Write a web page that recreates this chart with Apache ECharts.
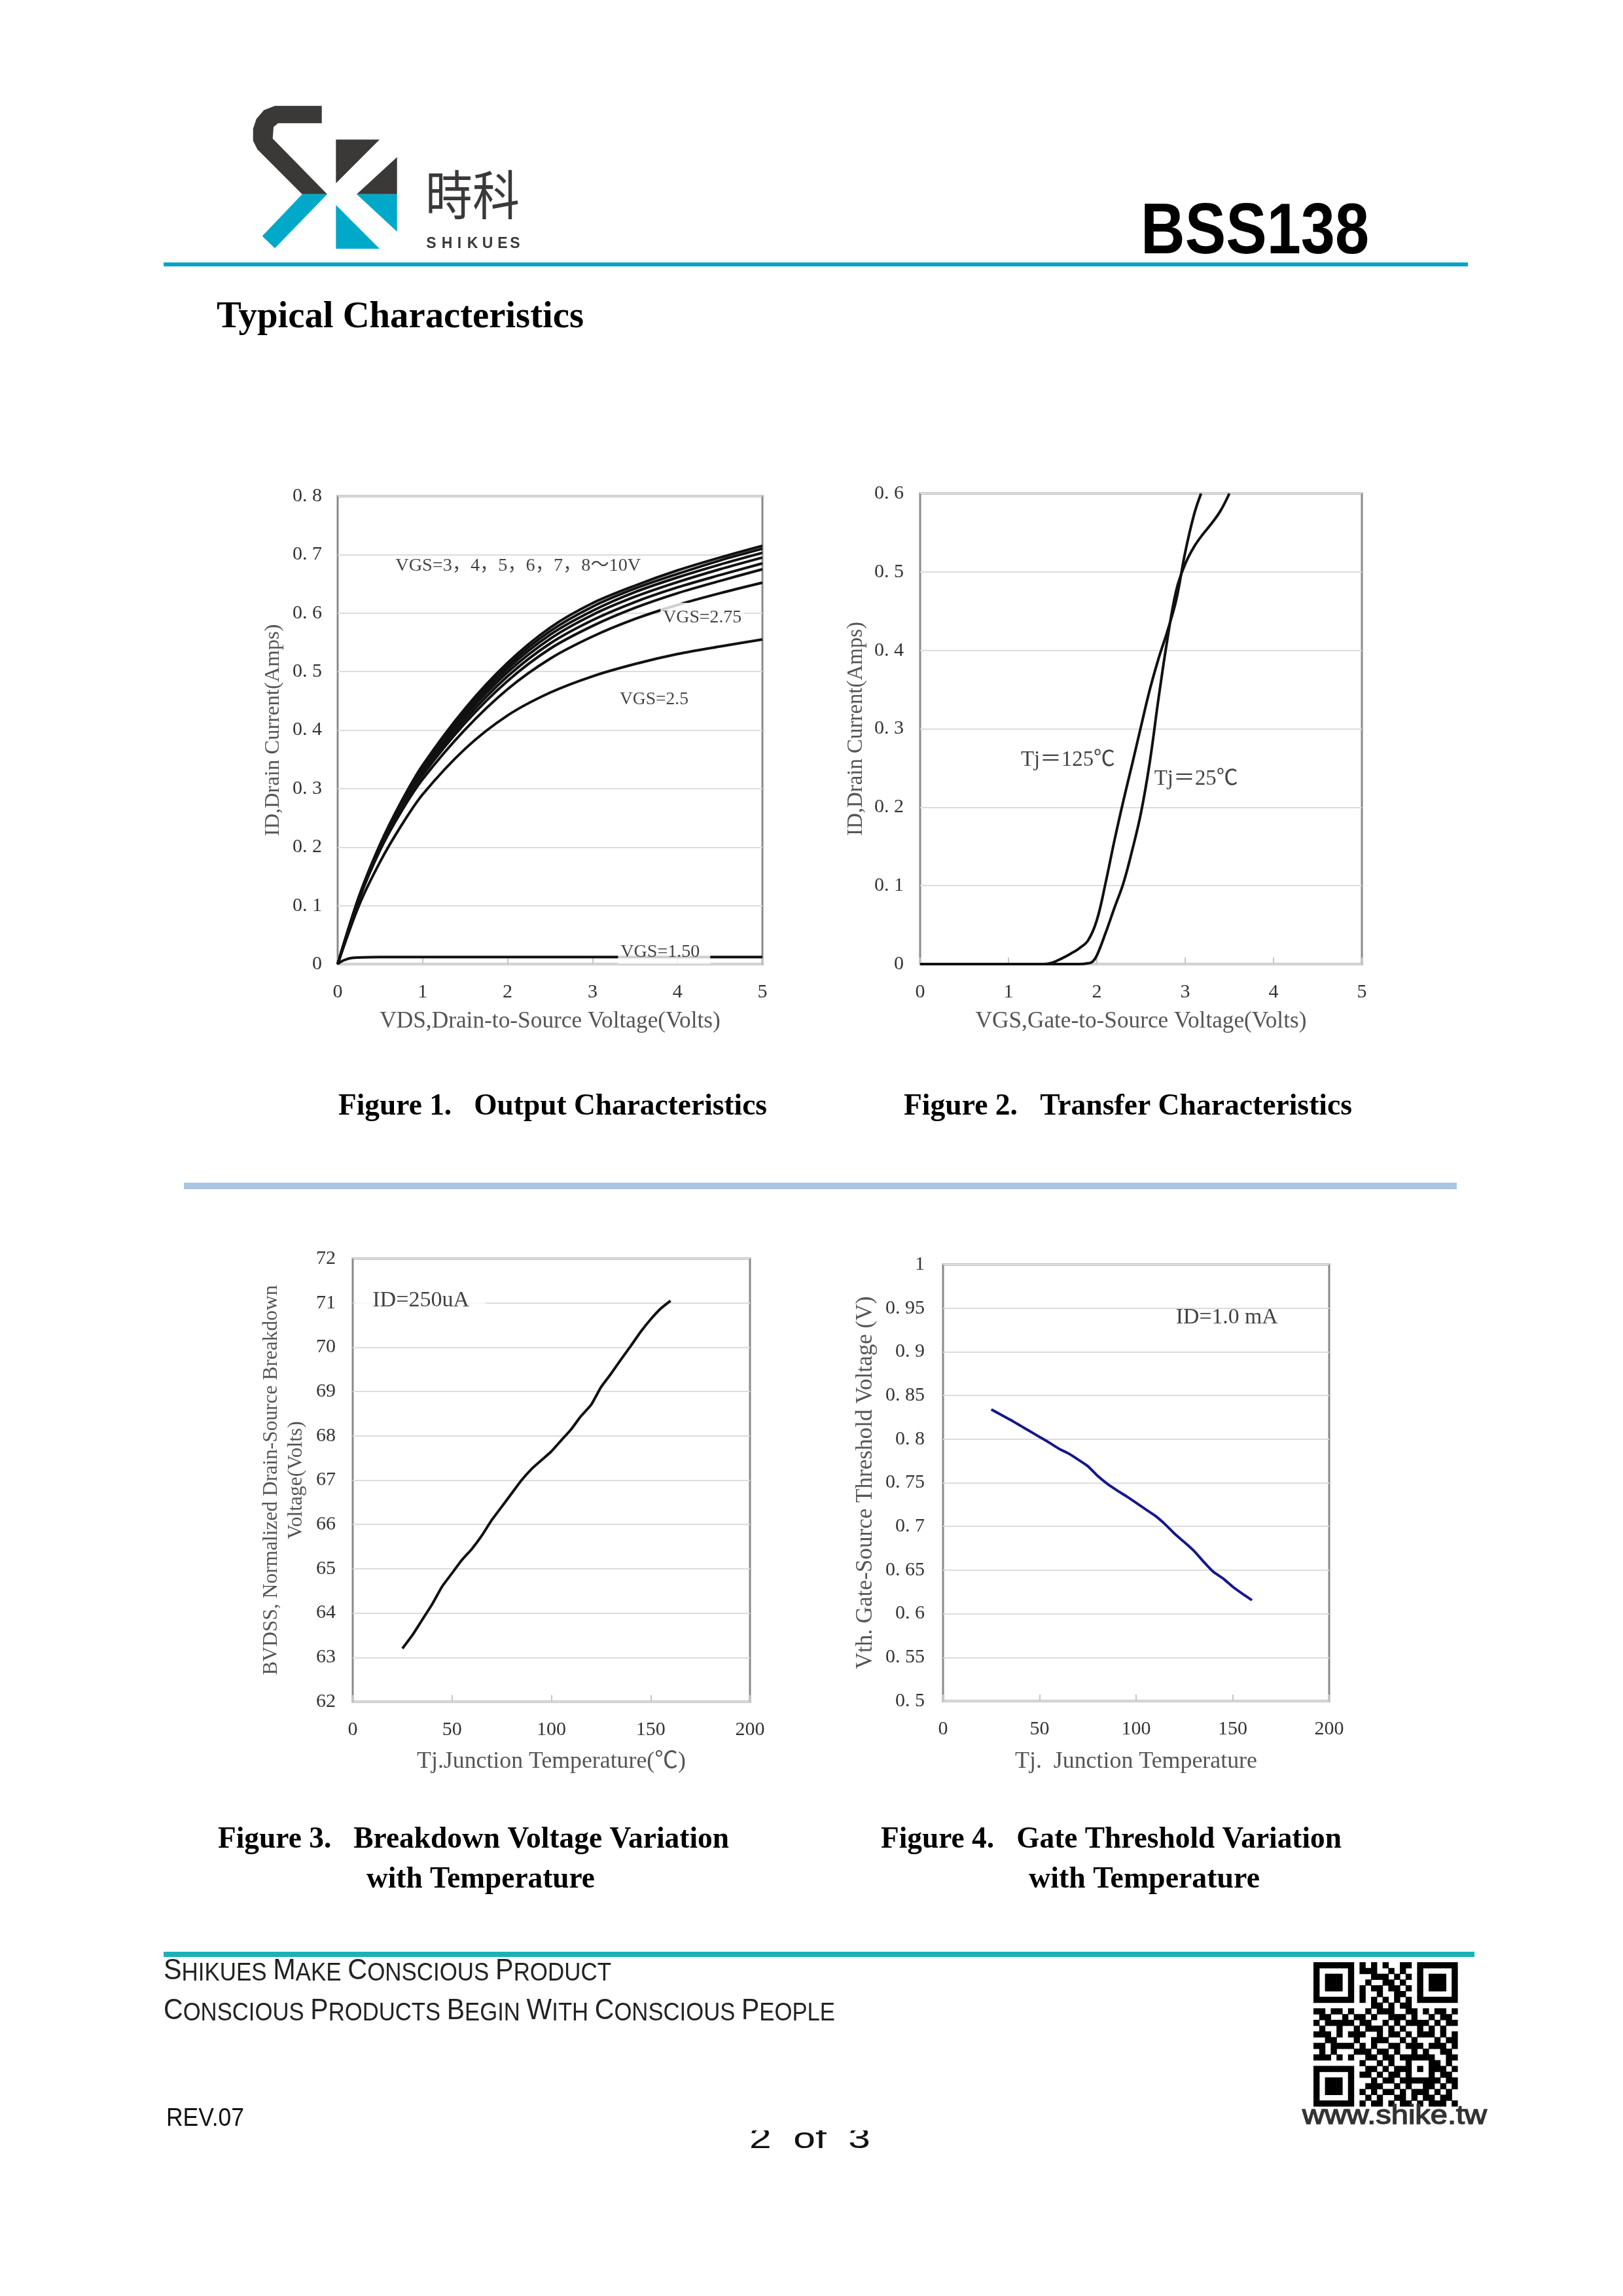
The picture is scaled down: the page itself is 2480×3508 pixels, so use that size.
<!DOCTYPE html>
<html><head><meta charset="utf-8">
<script src="https://cdn.jsdelivr.net/npm/echarts@6/dist/echarts.min.js"></script>
<style>html,body{margin:0;padding:0;background:#fff}#c{width:2480px;height:3508px}</style>
</head><body><div id="c"></div>
<script>
// ---------- Figure 1 data: Output characteristics ----------
const fig1VDS = [0,0.25,0.5,0.75,1,1.5,2,2.5,3,3.5,4,4.5,5];
const idVgs10 = [0,0.115,0.205,0.278,0.340,0.437,0.515,0.575,0.617,0.647,0.673,0.695,0.715];
const idVgs7  = [0,0.115,0.204,0.276,0.337,0.433,0.510,0.569,0.611,0.642,0.667,0.690,0.710];
const idVgs6  = [0,0.114,0.203,0.274,0.334,0.429,0.505,0.563,0.604,0.636,0.661,0.683,0.703];
const idVgs5  = [0,0.113,0.202,0.272,0.331,0.424,0.499,0.556,0.597,0.628,0.653,0.675,0.695];
const idVgs4  = [0,0.112,0.200,0.269,0.327,0.418,0.492,0.548,0.588,0.619,0.644,0.665,0.685];
const idVgs3  = [0,0.111,0.198,0.266,0.323,0.412,0.484,0.539,0.578,0.609,0.634,0.655,0.675];
const idVgs275= [0,0.110,0.195,0.261,0.316,0.401,0.470,0.522,0.560,0.590,0.614,0.634,0.652];
const idVgs25 = [0,0.100,0.175,0.237,0.290,0.368,0.425,0.464,0.492,0.513,0.530,0.543,0.555];
const vgs15VDS = [0,0.05,0.1,0.15,0.2,0.3,0.5,1,2,3,4,5];
const idVgs15  = [0,0.005,0.008,0.010,0.011,0.0115,0.012,0.012,0.012,0.012,0.012,0.012];

// ---------- Figure 2 data: Transfer characteristics ----------
const tj125VGS = [0,1.4,1.5,1.6,1.7,1.8,1.9,2.0,2.1,2.2,2.3,2.4,2.5,2.6,2.7,2.8,2.9,3.0,3.1,3.18];
const tj125ID  = [0,0,0.002,0.007,0.013,0.020,0.030,0.056,0.104,0.158,0.208,0.255,0.303,0.350,0.390,0.425,0.465,0.525,0.573,0.600];
const tj25VGS  = [0,1.8,1.9,1.95,2.0,2.1,2.2,2.3,2.4,2.5,2.6,2.7,2.8,2.9,3.0,3.1,3.2,3.3,3.4,3.5];
const tj25ID   = [0,0,0.001,0.003,0.011,0.040,0.072,0.103,0.145,0.193,0.258,0.340,0.415,0.477,0.510,0.532,0.548,0.562,0.578,0.600];

// ---------- Figure 3 / 4 data ----------
const tjC   = [25,30,35,40,45,50,55,60,65,70,75,80,85,90,95,100,105,110,115,120,125,130,135,140,145,150,155,160];
const bvdss = [63.2,63.5,63.85,64.2,64.6,64.9,65.2,65.45,65.75,66.1,66.4,66.7,67.0,67.25,67.45,67.65,67.9,68.15,68.45,68.7,69.1,69.4,69.72,70.03,70.35,70.63,70.87,71.05];
const vth   = [0.834,0.828,0.822,0.8155,0.809,0.8025,0.796,0.789,0.7835,0.7765,0.769,0.758,0.749,0.7415,0.7345,0.727,0.7195,0.712,0.7025,0.6915,0.682,0.672,0.6595,0.648,0.6405,0.631,0.623,0.6155];

// ---------- annotation texts ----------
const fig1Notes = ['VGS=3，4，5，6，7，8～10V','VGS=2.75','VGS=2.5','VGS=1.50'];
const fig2Notes = ['Tj＝125℃','Tj＝25℃'];
const fig3Note = 'ID=250uA';
const fig4Note = 'ID=1.0 mA';

// decorative QR pattern rows (structure overlaid in code)
const qrRows = [
"0110100110101001101011010","1011001011100101011010110","0101110100111010100101101",
"1100101101001101011010011","0111010010110110100101110","1001101110010011011011001",
"1010101010101010101010101","0110110100110101101001010","1101101001011100110101101",
"0110010110100111010010110","1011111011001010111101011","0100100101110101001010100",
"1110101110010110101110101","0011000100111001010001011","1101111010100110111011101",
"0101000111011010010100110","1110101001101101111110011","0011010110010100110101010",
"1010110101101011001011101","0101001011010110110100110","1101110100101101011011011",
"0010101101110010100110101","1011010010101101011101010","0110101101010011010110110",
"1101011010110101101011101"];

const SERIF = '"Liberation Serif", "Noto Sans CJK SC", serif';
const SANS = '"Liberation Sans", "Noto Sans", sans-serif';
const CJK = '"Noto Sans CJK TC", "Noto Sans CJK SC", sans-serif';
const cv = document.createElement('canvas').getContext('2d');
function tw(text, font){ cv.font = font; return cv.measureText(text).width; }
function fitSize(text, family, weight, target){ return 100*target/tw(text, weight+' 100px '+family); }

function txt(text, x, cy, size, family, weight, width, color, align){
  const font = weight+' '+size+'px '+family;
  const w = tw(text, font);
  return {type:'text', x:x, y:cy, scaleX: width ? width/w : 1, z:100, silent:true,
    style:{text:text, font:font, fill:color||'#000', textAlign:align||'left', align:align||'left',
           textVerticalAlign:'middle', verticalAlign:'middle'}};
}
function smallCaps(text, x, cy, big, small, family, width, color){
  let rich = '', w = 0;
  for (const ch of text){
    if (ch === ' '){ rich += '{s| }'; w += tw(' ', small+'px '+family); continue; }
    if (ch === ch.toUpperCase()){ rich += '{b|'+ch+'}'; w += tw(ch, big+'px '+family); }
    else { const u = ch.toUpperCase(); rich += '{s|'+u+'}'; w += tw(u, small+'px '+family); }
  }
  return {type:'text', x:x, y:cy, scaleX: width/w, z:100, silent:true,
    style:{text:rich, fill:color, textAlign:'left', align:'left', textVerticalAlign:'middle', verticalAlign:'middle',
      rich:{ b:{fontSize:big, fontFamily:family, fill:color, color:color, verticalAlign:'bottom'},
             s:{fontSize:small, fontFamily:family, fill:color, color:color, verticalAlign:'bottom'} }}};
}

const zip = (xs, ys) => xs.map((x,i)=>[x, ys[i]]);
function lineSeries(gi, xs, ys, color, smooth){
  return {type:'line', xAxisIndex:gi, yAxisIndex:gi, data:zip(xs,ys), symbol:'none', showSymbol:false,
    smooth: smooth, silent:true, z:3, lineStyle:{color:color, width:4}};
}
function notes(gi, items){
  return {type:'scatter', xAxisIndex:gi, yAxisIndex:gi, symbolSize:0, z:10, silent:true,
    data: items.map(it => ({name:it.text, value:it.at, label:{show:true, position:'right', distance:0, formatter:'{b}',
      fontFamily:SERIF, fontSize:it.size, color:'#111', backgroundColor: it.bg || 'transparent', padding: it.pad || 0}}))};
}
const decFmt = v => { if (Math.abs(v - Math.round(v)) < 1e-9) return String(Math.round(v));
  let s = v.toFixed(2).replace(/0+$/,''); return s.replace('.', '. '); };

const TICK_FONT = 30;
function xAxis(gi, min, max, interval, name, nameGap, target){
  return {type:'value', gridIndex:gi, min:min, max:max, interval:interval,
    axisLine:{show:false}, splitLine:{show:false},
    axisTick:{show:true, inside:true, length:10, lineStyle:{color:'#c6c6c6', width:2}},
    axisLabel:{margin:28, fontFamily:SERIF, fontSize:TICK_FONT, color:'#333'},
    name:name, nameLocation:'middle', nameGap:nameGap,
    nameTextStyle:{fontFamily:SERIF, fontSize:fitSize(name, SERIF, 'normal', target), color:'#555', verticalAlign:'middle'}};
}
function yAxis(gi, min, max, interval, name, nameGap, target, fmt, margin, lh){
  const first = name.split('\n')[0];
  return {type:'value', gridIndex:gi, min:min, max:max, interval:interval,
    axisLine:{show:false}, axisTick:{show:false},
    splitLine:{show:true, lineStyle:{color:'#dcdcdc', width:2}},
    axisLabel:{margin:margin, fontFamily:SERIF, fontSize:TICK_FONT, color:'#333', formatter:fmt},
    name:name, nameLocation:'middle', nameGap:nameGap, nameRotate:90,
    nameTextStyle:{fontFamily:SERIF, fontSize:fitSize(first, SERIF, 'normal', target), color:'#555',
      verticalAlign:'middle', lineHeight: lh || undefined}};
}
const gridBox = {show:true, borderColor:'#8a8a8a', borderWidth:3, backgroundColor:'transparent'};

// ---------- page graphics ----------
const G = [];
const DARK = '#3b3838', CYAN = '#00a9c9';
G.push({type:'polygon', silent:true, shape:{points:[[491.7,161.7],[491.7,188.3],[425,188.3],[418,194],[416.7,211.7],[500,296.7],[461.7,296.7],[393.3,228.3],[386.7,215],[386.7,196.7],[391.7,181.7],[403.3,168.3],[420,161.7]]}, style:{fill:DARK}});
G.push({type:'polygon', silent:true, shape:{points:[[461.7,296.7],[500,296.7],[420,379.3],[400.7,360.7]]}, style:{fill:CYAN}});
G.push({type:'polygon', silent:true, shape:{points:[[513.3,213.3],[580,213.3],[513.3,280]]}, style:{fill:DARK}});
G.push({type:'polygon', silent:true, shape:{points:[[606.7,240],[606.7,296.7],[545,296.7]]}, style:{fill:DARK}});
G.push({type:'polygon', silent:true, shape:{points:[[545,296.7],[606.7,296.7],[606.7,354]]}, style:{fill:CYAN}});
G.push({type:'polygon', silent:true, shape:{points:[[513.3,313.3],[513.3,380],[580,380]]}, style:{fill:CYAN}});
G.push(Object.assign(txt('時科', 650, 297, 72, CJK, 'normal', 144, DARK), {scaleY:1.12}));
const skLetters = ['S','H','I','K','U','E','S'], skX = [659,683,702,722,745,768,787];
skLetters.forEach((c,i)=>G.push(txt(c, skX[i], 372.5, 23, SANS, 'bold', 0, DARK, 'center')));
G.push(txt('BSS138', 1743, 357, 110, SANS, 'bold', 349, '#000'));
G.push({type:'rect', silent:true, shape:{x:250, y:401, width:1993, height:6}, style:{fill:'#02a2c6'}});
G.push(txt('Typical Characteristics', 331, 486, 56, SERIF, 'bold', 561, '#000'));
G.push(txt('Figure 1.   Output Characteristics', 517, 1691, 46, SERIF, 'bold', 655, '#000'));
G.push(txt('Figure 2.   Transfer Characteristics', 1381, 1691, 46, SERIF, 'bold', 685, '#000'));
G.push({type:'rect', silent:true, shape:{x:281, y:1807, width:1945, height:10}, style:{fill:'#a9c6e2'}});
G.push(txt('Figure 3.   Breakdown Voltage Variation', 333, 2811, 46, SERIF, 'bold', 781, '#000'));
G.push(txt('with Temperature', 560, 2872, 46, SERIF, 'bold', 349, '#000'));
G.push(txt('Figure 4.   Gate Threshold Variation', 1346, 2811, 46, SERIF, 'bold', 704, '#000'));
G.push(txt('with Temperature', 1572, 2872, 46, SERIF, 'bold', 353, '#000'));
G.push({type:'rect', silent:true, shape:{x:250, y:2982, width:2003, height:8}, style:{fill:'#1cb2b5'}});
G.push(smallCaps('Shikues Make Conscious Product', 250, 3012, 45, 38, SANS, 684, '#222'));
G.push(smallCaps('Conscious Products Begin With Conscious People', 250, 3073, 45, 38, SANS, 1026, '#222'));
G.push(txt('REV.07', 254, 3238, 38, SANS, 'normal', 119, '#111'));
G.push(txt('2  of  3', 1145, 3270, 44, SANS, 'normal', 185, '#111'));
G.push({type:'rect', silent:true, z:101, shape:{x:1120, y:3225, width:240, height:30}, style:{fill:'#fff'}});
const www = txt('www.shike.tw', 1990, 3234, 40, SANS, 'normal', 282, '#333');
www.style.stroke = '#333'; www.style.lineWidth = 1.4;
G.push(www);
// QR code (decorative)
(function(){
  const x0 = 2007, y0 = 2998, m = 8.8;
  function dark(r,c){
    const fz = [[0,0],[0,18],[18,0]];
    for (const [r0,c0] of fz){
      if (r>=r0 && r<r0+7 && c>=c0 && c<c0+7){ const rr=r-r0, cc=c-c0;
        return rr===0||rr===6||cc===0||cc===6||(rr>=2&&rr<=4&&cc>=2&&cc<=4); }
    }
    if ((r===7&&(c<8||c>=17))||(c===7&&(r<8||r>=17))||(c===17&&r<8)||(r===17&&c<8)) return false;
    if (r>=16&&r<=20&&c>=16&&c<=20){ const rr=r-16, cc=c-16; return rr===0||rr===4||cc===0||cc===4||(rr===2&&cc===2); }
    if (r===6) return c%2===0;
    if (c===6) return r%2===0;
    return qrRows[r][c]==='1';
  }
  for (let r=0;r<25;r++) for (let c=0;c<25;c++) if (dark(r,c))
    G.push({type:'rect', silent:true, shape:{x:x0+c*m, y:y0+r*m, width:m+0.6, height:m+0.6}, style:{fill:'#000'}});
})();

// ---------- chart option ----------
const nSize = (t, w) => fitSize(t, SERIF, 'normal', w);
const option = {
  backgroundColor:'#fff', animation:false,
  grid:[
    Object.assign({left:516, top:758, width:649, height:715}, gridBox),
    Object.assign({left:1406, top:754, width:675, height:719}, gridBox),
    Object.assign({left:539, top:1923, width:607, height:677}, gridBox),
    Object.assign({left:1441, top:1932, width:590, height:667}, gridBox)
  ],
  xAxis:[
    xAxis(0, 0, 5, 1, 'VDS,Drain-to-Source Voltage(Volts)', 88, 521),
    xAxis(1, 0, 5, 1, 'VGS,Gate-to-Source Voltage(Volts)', 88, 506),
    xAxis(2, 0, 200, 50, 'Tj.Junction Temperature(℃)', 92, 411),
    xAxis(3, 0, 200, 50, 'Tj.  Junction Temperature', 93, 370)
  ],
  yAxis:[
    yAxis(0, 0, 0.8, 0.1, 'ID,Drain Current(Amps)', 99, 324, decFmt, 24),
    yAxis(1, 0, 0.6, 0.1, 'ID,Drain Current(Amps)', 98, 327, decFmt, 25),
    yAxis(2, 62, 72, 1, 'BVDSS, Normalized Drain-Source Breakdown\nVoltage(Volts)', 105, 596, v=>String(v), 26, 38),
    yAxis(3, 0.5, 1, 0.05, 'Vth. Gate-Source Threshold Voltage (V)', 118, 570, decFmt, 28)
  ],
  series:[
    lineSeries(0, fig1VDS, idVgs25, '#111', 0.3),
    lineSeries(0, fig1VDS, idVgs275, '#111', 0.3),
    lineSeries(0, fig1VDS, idVgs3, '#111', 0.3),
    lineSeries(0, fig1VDS, idVgs4, '#111', 0.3),
    lineSeries(0, fig1VDS, idVgs5, '#111', 0.3),
    lineSeries(0, fig1VDS, idVgs6, '#111', 0.3),
    lineSeries(0, fig1VDS, idVgs7, '#111', 0.3),
    lineSeries(0, fig1VDS, idVgs10, '#111', 0.3),
    lineSeries(0, vgs15VDS, idVgs15, '#111', 0.25),
    lineSeries(1, tj125VGS, tj125ID, '#111', 0.4),
    lineSeries(1, tj25VGS, tj25ID, '#111', 0.4),
    lineSeries(2, tjC, bvdss, '#111', 0.2),
    lineSeries(3, tjC, vth, '#16168a', 0.2),
    notes(0, [
      {text:fig1Notes[0], at:[0.68, 0.681], size:nSize(fig1Notes[0], 375)},
      {text:fig1Notes[1], at:[3.80, 0.592], size:nSize(fig1Notes[1], 120), bg:'#fff', pad:[16,4,2,4]},
      {text:fig1Notes[2], at:[3.32, 0.452], size:nSize(fig1Notes[2], 105)},
      {text:fig1Notes[3], at:[3.30, 0.021], size:nSize(fig1Notes[3], 121), bg:'#fff', pad:[4,16,4,4]}
    ]),
    notes(1, [
      {text:fig2Notes[0], at:[1.14, 0.26], size:nSize(fig2Notes[0], 144)},
      {text:fig2Notes[1], at:[2.65, 0.236], size:nSize(fig2Notes[1], 128)}
    ]),
    notes(2, [{text:fig3Note, at:[1.4, 71.05], size:nSize(fig3Note, 148), bg:'#fff', pad:[6,24,6,26]}]),
    notes(3, [{text:fig4Note, at:[120.6, 0.939], size:nSize(fig4Note, 156)}])
  ],
  graphic:{elements:G}
};
const chart = echarts.init(document.getElementById('c'));
chart.setOption(option);
</script></body></html>
